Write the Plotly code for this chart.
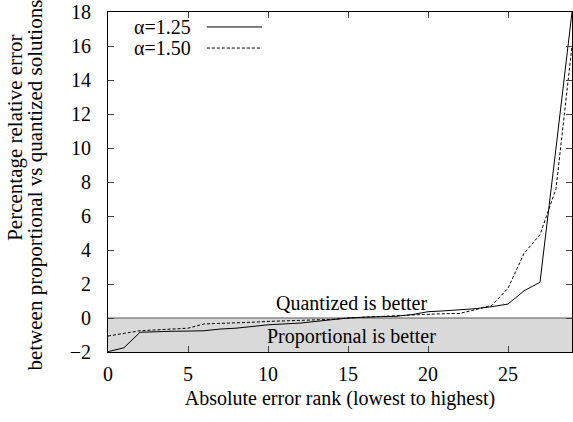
import plotly.graph_objects as go

rank = list(range(30))
alpha125 = [-1.98, -1.75, -0.84, -0.80, -0.78, -0.77, -0.75, -0.65, -0.60, -0.50,
            -0.40, -0.35, -0.30, -0.20, -0.10, 0.00, 0.05, 0.08, 0.10, 0.20,
            0.37, 0.42, 0.47, 0.55, 0.67, 0.82, 1.60, 2.10, 10.0, 18.0]
alpha150 = [-1.06, -0.90, -0.75, -0.70, -0.65, -0.60, -0.35, -0.33, -0.30, -0.25,
            -0.20, -0.18, -0.15, -0.12, -0.08, 0.00, 0.05, 0.10, 0.15, 0.20,
            0.22, 0.25, 0.27, 0.50, 0.75, 1.75, 3.80, 4.90, 7.60, 16.0]
series_names = ["α=1.25", "α=1.50"]
x_ticks = [0, 5, 10, 15, 20, 25]
y_ticks = [-2, 0, 2, 4, 6, 8, 10, 12, 14, 16, 18]

FONT = "Liberation Serif, Times New Roman, Times, DejaVu Serif, serif"
fig = go.Figure()
fig.add_trace(go.Scatter(x=rank, y=alpha125, mode="lines", name=series_names[0],
                         line=dict(color="black", width=1), showlegend=False))
fig.add_trace(go.Scatter(x=rank, y=alpha150, mode="lines", name=series_names[1],
                         line=dict(color="black", width=1, dash="3px,2px"), showlegend=False))

# shaded region
fig.add_shape(type="rect", xref="paper", yref="y", x0=0, x1=1, y0=-2, y1=0,
              fillcolor="#d9d9d9", line=dict(width=0), layer="below")
fig.add_shape(type="line", xref="paper", yref="y", x0=0, x1=1, y0=0, y1=0,
              line=dict(color="#555555", width=1), layer="below")

fig.add_annotation(x=15.2, y=0.9, xref="x", yref="y", text="Quantized is better",
                   showarrow=False, font=dict(family=FONT, size=20, color="black"))
fig.add_annotation(x=15.2, y=-1.1, xref="x", yref="y", text="Proportional is better",
                   showarrow=False, font=dict(family=FONT, size=20, color="black"))

# legend (gnuplot style: text then sample)
leg_y = [0.956, 0.894]
dashes = ["solid", "3px,2px"]
for name, yy, dsh in zip(series_names, leg_y, dashes):
    fig.add_annotation(x=0.184, y=yy, xref="paper", yref="paper", text=name,
                       showarrow=False, xanchor="right", yanchor="middle",
                       font=dict(family=FONT, size=20, color="black"))
    fig.add_shape(type="line", xref="paper", yref="paper", x0=0.213, x1=0.332,
                  y0=yy, y1=yy, line=dict(color="black", width=1, dash=dsh))

# y title (two lines, positioned as in the reference)
fig.add_annotation(x=-0.2004, y=0.63, xref="paper", yref="paper",
                   text="Percentage relative error",
                   textangle=-90, showarrow=False, xanchor="center", yanchor="middle",
                   font=dict(family=FONT, size=21, color="black"))
fig.add_annotation(x=-0.157, y=0.49, xref="paper", yref="paper",
                   text="between proportional vs quantized solutions",
                   textangle=-90, showarrow=False, xanchor="center", yanchor="middle",
                   font=dict(family=FONT, size=21, color="black"))

fig.update_layout(
    width=573, height=422,
    margin=dict(l=108, r=1, t=12, b=70),
    paper_bgcolor="white", plot_bgcolor="white",
    font=dict(family=FONT, size=20, color="black"),
    showlegend=False,
)
fig.update_xaxes(range=[0, 29], tickvals=x_ticks, ticks="inside", ticklen=6,
                 showline=True, linecolor="black", linewidth=1, mirror="ticks",
                 showgrid=False, zeroline=False, ticklabelstandoff=4,
                 title=dict(text="Absolute error rank (lowest to highest)", standoff=6,
                            font=dict(family=FONT, size=20)))
fig.update_yaxes(range=[-2, 18], tickvals=y_ticks, ticks="inside", ticklen=6,
                 showline=True, linecolor="black", linewidth=1, mirror="ticks",
                 showgrid=False, zeroline=False, ticklabelstandoff=12)

fig.write_html("out.html")
